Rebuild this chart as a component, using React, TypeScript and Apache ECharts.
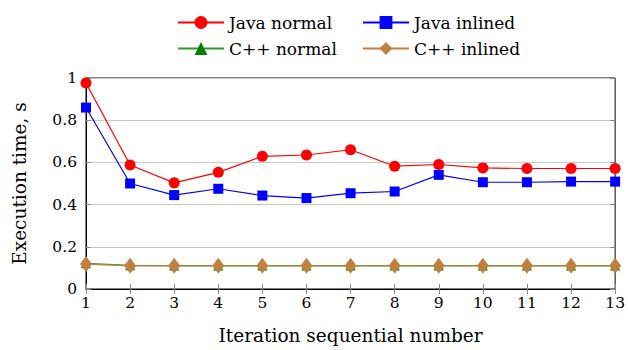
import React, { useEffect, useRef } from "react";
import * as echarts from "echarts";

const iterations = [1, 2, 3, 4, 5, 6, 7, 8, 9, 10, 11, 12, 13];
const javaNormal = [0.976, 0.588, 0.503, 0.553, 0.629, 0.635, 0.66, 0.582, 0.59, 0.574, 0.571, 0.571, 0.571];
const javaInlined = [0.86, 0.5, 0.445, 0.475, 0.443, 0.431, 0.454, 0.462, 0.541, 0.506, 0.506, 0.509, 0.509];
const cppNormal = [0.122, 0.112, 0.111, 0.111, 0.111, 0.111, 0.111, 0.111, 0.111, 0.111, 0.111, 0.111, 0.111];
const cppInlined = [0.118, 0.11, 0.11, 0.11, 0.11, 0.11, 0.11, 0.11, 0.11, 0.11, 0.11, 0.11, 0.11];

const FONT = "DejaVu Serif";

export default function App() {
  const ref = useRef<HTMLDivElement>(null);
  useEffect(() => {
    if (!ref.current) return;
    const chart = echarts.init(ref.current, null, { renderer: "svg" });
    const pairs = (vals: number[]) => iterations.map((x, i) => [x, vals[i]]);
    const mkLegend = (name: string, left: number, top: number) => ({
      show: true,
      data: [name],
      left,
      top,
      itemWidth: 46,
      itemHeight: 16,
      textStyle: { fontFamily: FONT, fontSize: 17, color: "#000" },
      selectedMode: false,
    });
    const tickStyle = { show: true, inside: true, length: 5, lineStyle: { color: "#888", width: 1 } };
    chart.setOption({
      animation: false,
      backgroundColor: "#fff",
      legend: [
        mkLegend("Java normal", 172, 9),
        mkLegend("Java inlined", 357, 9),
        mkLegend("C++ normal", 172, 35),
        mkLegend("C++ inlined", 357, 35),
      ],
      grid: { left: 86, right: 10, top: 78, bottom: 60, show: true, borderColor: "#000", borderWidth: 1, containLabel: false },
      xAxis: [
        {
          type: "value",
          min: 1,
          max: 13,
          interval: 1,
          name: "Iteration sequential number",
          nameLocation: "middle",
          nameGap: 37,
          nameTextStyle: { fontFamily: FONT, fontSize: 18.5, color: "#000" },
          axisLine: { show: true, lineStyle: { color: "#000", width: 1 } },
          axisTick: tickStyle,
          axisLabel: { fontFamily: FONT, fontSize: 15.5, color: "#000", margin: 6 },
          splitLine: { show: false },
        },
        {
          type: "value",
          position: "top",
          min: 1,
          max: 13,
          interval: 1,
          axisLine: { show: false },
          axisTick: tickStyle,
          axisLabel: { show: false },
          splitLine: { show: false },
        },
      ],
      yAxis: [
        {
          type: "value",
          min: 0,
          max: 1,
          interval: 0.2,
          name: "Execution time, s",
          nameLocation: "middle",
          nameGap: 57,
          nameTextStyle: { fontFamily: FONT, fontSize: 18.5, color: "#000" },
          axisLine: { show: true, lineStyle: { color: "#000", width: 1 } },
          axisTick: tickStyle,
          axisLabel: { fontFamily: FONT, fontSize: 15.5, color: "#000", margin: 9 },
          splitLine: { show: true, lineStyle: { color: "#c8c8c8", width: 1 } },
        },
        {
          type: "value",
          position: "right",
          min: 0,
          max: 1,
          interval: 0.2,
          axisLine: { show: false },
          axisTick: tickStyle,
          axisLabel: { show: false },
          splitLine: { show: false },
        },
      ],
      series: [
        {
          name: "C++ normal",
          type: "line",
          data: pairs(cppNormal),
          symbol: "triangle",
          symbolSize: 10,
          itemStyle: { color: "#008000" },
          lineStyle: { color: "#2a9a2a", width: 1.2 },
          z: 2,
        },
        {
          name: "C++ inlined",
          type: "line",
          data: pairs(cppInlined),
          symbol: "diamond",
          symbolSize: [12, 16],
          itemStyle: { color: "#bf8040" },
          lineStyle: { color: "#bf8040", width: 1.2 },
          z: 3,
        },
        {
          name: "Java inlined",
          type: "line",
          data: pairs(javaInlined),
          symbol: "rect",
          symbolSize: 10,
          itemStyle: { color: "#0000ff" },
          lineStyle: { color: "#0000ff", width: 1.2 },
          z: 4,
        },
        {
          name: "Java normal",
          type: "line",
          data: pairs(javaNormal),
          symbol: "circle",
          symbolSize: 11,
          itemStyle: { color: "#ff0000" },
          lineStyle: { color: "#ff0000", width: 1.2 },
          z: 5,
        },
      ],
    });
    return () => chart.dispose();
  }, []);
  return <div ref={ref} style={{ width: 628, height: 350, position: "absolute", left: 0, top: 0 }} />;
}
